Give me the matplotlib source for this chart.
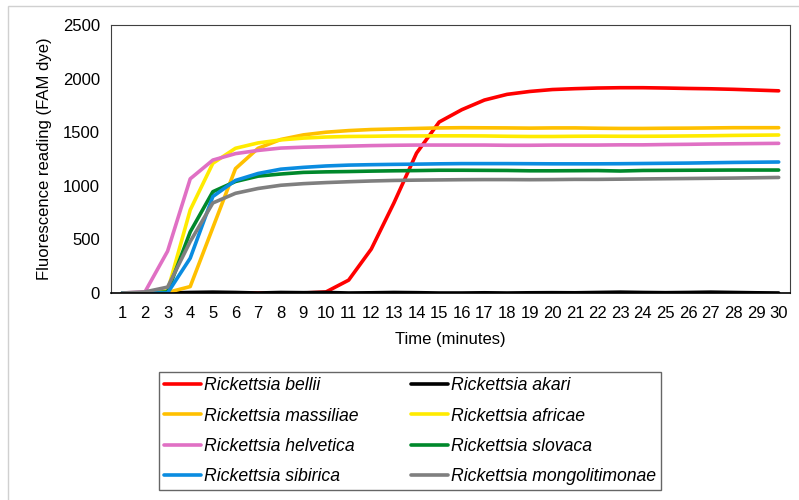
import numpy as np
import matplotlib.pyplot as plt
from matplotlib.patches import Rectangle

plt.rcParams['font.family'] = ['Liberation Sans', 'DejaVu Sans']

# time points (minutes)
minutes = list(range(1, 31))

# fluorescence readings per species
bellii = [0, 0, 0, 0, 0, 0, 0, 0, 0, 10, 120, 410, 840, 1305, 1595, 1710, 1800, 1853, 1880, 1898,
          1906, 1912, 1915, 1915, 1912, 1908, 1905, 1900, 1893, 1886]
akari = [0, 0, 0, 5, 8, 5, 0, 5, 3, 5, 0, 2, 5, 3, 0, 0, 2, 0, 2, 3, 2, 5, 8, 5, 3, 5, 8, 5, 2, 0]
massiliae = [0, 0, 5, 60, 610, 1160, 1350, 1432, 1475, 1500, 1515, 1525, 1530, 1535, 1540, 1542, 1541, 1540,
             1538, 1540, 1540, 1537, 1535, 1535, 1537, 1538, 1540, 1542, 1542, 1542]
africae = [0, 0, 20, 775, 1210, 1350, 1400, 1428, 1445, 1455, 1460, 1462, 1465, 1465, 1466, 1466, 1465, 1462,
           1460, 1460, 1462, 1463, 1462, 1462, 1463, 1465, 1467, 1470, 1472, 1474]
helvetica = [0, 10, 390, 1065, 1240, 1300, 1330, 1352, 1360, 1365, 1370, 1375, 1378, 1380, 1380, 1380, 1380,
             1378, 1378, 1380, 1380, 1380, 1382, 1382, 1385, 1387, 1390, 1392, 1394, 1396]
slovaca = [0, 0, 10, 570, 945, 1040, 1090, 1110, 1125, 1130, 1133, 1137, 1140, 1142, 1145, 1145, 1144, 1143,
           1140, 1140, 1141, 1142, 1138, 1143, 1144, 1145, 1146, 1147, 1147, 1147]
sibirica = [0, 0, 0, 325, 900, 1050, 1115, 1155, 1172, 1185, 1193, 1197, 1200, 1202, 1205, 1207, 1207, 1207,
            1206, 1205, 1205, 1205, 1206, 1208, 1210, 1212, 1215, 1218, 1220, 1222]
mongolitimonae = [0, 10, 55, 480, 840, 930, 975, 1005, 1020, 1030, 1038, 1045, 1050, 1053, 1055, 1057, 1058,
                  1058, 1057, 1058, 1060, 1060, 1062, 1064, 1066, 1068, 1070, 1072, 1075, 1078]

series = [
    ("Rickettsia bellii", bellii, "#FF0000"),
    ("Rickettsia akari", akari, "#000000"),
    ("Rickettsia massiliae", massiliae, "#FFC000"),
    ("Rickettsia africae", africae, "#FFEB00"),
    ("Rickettsia helvetica", helvetica, "#E070C4"),
    ("Rickettsia slovaca", slovaca, "#00882B"),
    ("Rickettsia sibirica", sibirica, "#0A8CE0"),
    ("Rickettsia mongolitimonae", mongolitimonae, "#7F7F7F"),
]

fig = plt.figure(figsize=(7.99, 5.0), dpi=100)
ax = fig.add_axes([111 / 799, 1 - 293 / 500, 679 / 799, 268 / 500])

handles = []
for name, vals, col in series:
    h, = ax.plot(minutes, vals, color=col, lw=2.6, label=name, solid_capstyle='round')
    handles.append(h)

ax.set_xlim(0.5, 30.5)
ax.set_ylim(0, 2500)
ax.set_xticks(minutes)
ax.set_yticks(np.arange(0, 2501, 500))
ax.tick_params(length=0, labelsize=12, pad=8)
ax.tick_params(axis='x', pad=9)
for side in ['left', 'top', 'right']:
    ax.spines[side].set_color('#404040')
    ax.spines[side].set_linewidth(0.8)
ax.spines['bottom'].set_color('#000000')
ax.spines['bottom'].set_linewidth(1.2)

ax.set_xlabel("Time (minutes)", fontsize=12, labelpad=8)
ax.set_ylabel("Fluorescence reading (FAM dye)", fontsize=12, labelpad=8)

# legend filled row by row (two columns)
order = [0, 2, 4, 6, 1, 3, 5, 7]
leg = fig.legend([handles[i] for i in order], [series[i][0] for i in order],
                 loc='upper left', bbox_to_anchor=(159 / 799, 1 - 372 / 500), ncol=2,
                 prop={'style': 'italic', 'size': 12.7}, frameon=True, fancybox=False,
                 edgecolor='#404040', handlelength=2.1, handletextpad=0.15,
                 columnspacing=3.0, labelspacing=0.75, borderpad=0.3, borderaxespad=0)
leg.get_frame().set_linewidth(1.0)

# faint outer chart border
fig.patches.append(Rectangle((8 / 799, -0.1), 1.2, 1 - 6 / 500 + 0.1, transform=fig.transFigure,
                             fill=False, edgecolor='#D0D0D0', lw=1.0))

fig.savefig("out.png", dpi=100)
